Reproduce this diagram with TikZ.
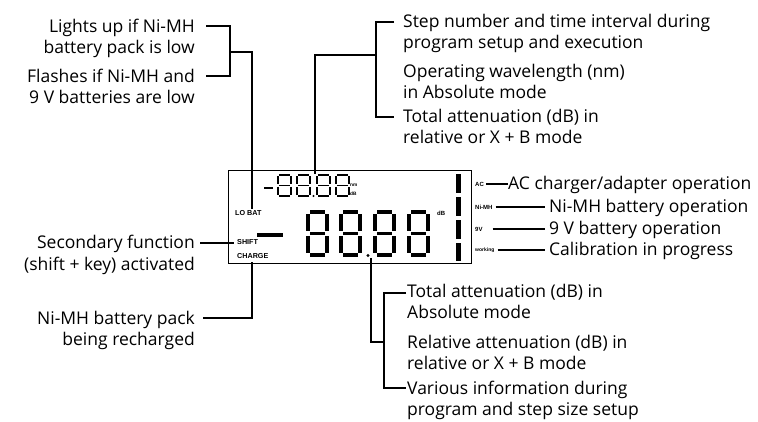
\documentclass[tikz,border=0pt]{standalone}
\usepackage{fontspec}
\setmainfont{Open Sans}
\newfontfamily\lcdfont{Liberation Sans}
\newcommand\segdigit[5]{% x, y top, width, height, thickness (outer box)
  \draw[line width=#5pt, line cap=butt]
    ({#1+#5*1.2}, {#2+#5/2}) -- ({#1+#3-#5*1.2}, {#2+#5/2})
    ({#1+#5*1.2}, {#2+#4/2}) -- ({#1+#3-#5*1.2}, {#2+#4/2})
    ({#1+#5*1.2}, {#2+#4-#5/2}) -- ({#1+#3-#5*1.2}, {#2+#4-#5/2})
    ({#1+#5/2}, {#2+#5*1.2}) -- ({#1+#5/2}, {#2+#4/2-#5*0.7})
    ({#1+#5/2}, {#2+#4/2+#5*0.7}) -- ({#1+#5/2}, {#2+#4-#5*1.2})
    ({#1+#3-#5/2}, {#2+#5*1.2}) -- ({#1+#3-#5/2}, {#2+#4/2-#5*0.7})
    ({#1+#3-#5/2}, {#2+#4/2+#5*0.7}) -- ({#1+#3-#5/2}, {#2+#4-#5*1.2});
}
\begin{document}
\begin{tikzpicture}[x=1pt, y=-1pt,
  desc/.style={font=\fontsize{17.5}{21}\selectfont, inner sep=0pt, align=left, anchor=base west},
  descr/.style={desc, align=right, anchor=base east},
  lcdlab/.style={font=\lcdfont\bfseries\fontsize{7.2}{8}\selectfont, inner sep=0pt, anchor=west},
  lcdsmall/.style={font=\lcdfont\bfseries\fontsize{6}{6}\selectfont, inner sep=0pt, anchor=west},
  conn/.style={line width=1.6pt},
  thinconn/.style={line width=1.1pt}]
\useasboundingbox (0,0) rectangle (758,422);

% LCD frame
\node[draw, line width=0.9pt, minimum width=243pt, minimum height=93pt, inner sep=0pt, anchor=north west] (lcd) at (228,170) {};

% small digits
\draw[line width=2pt] (264,188) -- (273,188);
\segdigit{277}{174}{15}{23}{1.9}
\segdigit{296}{174}{15}{23}{1.9}
\segdigit{316}{174}{15}{23}{1.9}
\segdigit{335}{174}{15}{23}{1.9}
\fill (313.5,196) circle (1.2pt);
\node[font=\lcdfont\bfseries\fontsize{4.8}{5}\selectfont, inner sep=0pt, anchor=west] (nm) at (350,185) {nm};
\node[font=\lcdfont\bfseries\fontsize{4.8}{5}\selectfont, inner sep=0pt, anchor=west] (dbs) at (350,194) {dB};

% big digits
\segdigit{306}{210}{23}{47}{3.6}
\segdigit{339}{210}{23}{47}{3.6}
\segdigit{373}{210}{23}{47}{3.6}
\segdigit{407}{210}{23}{47}{3.6}
\fill (368,255.5) circle (1.7pt);
\node[lcdsmall] (dbb) at (437,213) {dB};

% left LCD labels and bar
\node[lcdlab] (lobat) at (235,213) {LO BAT};
\node[lcdlab] (shift) at (237,242) {SHIFT};
\node[lcdlab] (charge) at (237,256) {CHARGE};
\fill (257,233) rectangle (283,237);

% right bars
\fill (456,174) rectangle (461,193);
\fill (456,197) rectangle (461,216);
\fill (456,220) rectangle (461,239);
\fill (456,243) rectangle (461,261);

% right LCD labels
\node[lcdsmall] (acl) at (475,184) {AC};
\node[lcdsmall] (nimhl) at (475,207) {Ni-MH};
\node[lcdsmall] (ninevl) at (475,229) {9V};
\node[lcdsmall, font=\lcdfont\bfseries\fontsize{5}{5}\selectfont] (workl) at (475,250) {working};

% right descriptions
\node[desc] (tac) at (508,190) {AC charger/adapter operation};
\node[desc] (tnimh) at (549,213) {Ni-MH battery operation};
\node[desc] (tnine) at (549,235) {9 V battery operation};
\node[desc] (twork) at (549,256) {Calibration in progress};
\draw[thinconn] (acl.east) ++(2,0) -- (tac.west |- acl.east);
\draw[thinconn] (nimhl.east) ++(3,0) coordinate (a1) -- ([xshift=-4pt]tnimh.west |- a1);
\draw[thinconn] (ninevl.east) ++(10,0) coordinate (a2) -- ([xshift=-4pt]tnine.west |- a2);
\draw[thinconn] (workl.east) ++(3,0) coordinate (a3) -- ([xshift=-4pt]twork.west |- a3);

% top descriptions (base = baseline of last line)
\node[desc] (tstep) at (403,49) {Step number and time interval during\\program setup and execution};
\node[desc] (twave) at (403,99) {Operating wavelength (nm)\\in Absolute mode};
\node[desc] (ttot) at (403,144) {Total attenuation (dB) in\\relative or X + B mode};
\coordinate (tb1) at (394,22);
\coordinate (tb2) at (394,117);
\coordinate (tj) at (376,55);
\coordinate (tdig) at (315,174);
\draw[conn] (tb1) -- (376,22) -- (376,117) -- (tb2);
\draw[conn] (tj) -| (tdig);

% top-left descriptions
\node[descr] (tlights) at (195,54) {Lights up if Ni-MH\\battery pack is low};
\node[descr] (tflash) at (195,104) {Flashes if Ni-MH and\\9 V batteries are low};
\coordinate (lb1) at (206,26);
\coordinate (lb2) at (206,76);
\draw[conn] (lb1) -- (230,26) -- (230,76) -- (lb2);
\draw[conn] (230,52) -| ([yshift=1pt]lobat.north -| 252,0);

% bottom-left descriptions
\node[descr] (tsec) at (195,270) {Secondary function\\(shift + key) activated};
\node[descr] (tchg) at (195,345) {Ni-MH battery pack\\being recharged};
\coordinate (sc1) at (200,243);
\draw[conn] (sc1) -- ([xshift=-3pt]shift.west |- sc1);
\coordinate (ch1) at (203,318);
\draw[conn] (ch1) -| (252,262);

% bottom descriptions
\node[desc] (tabs) at (407,319) {Total attenuation (dB) in\\Absolute mode};
\node[desc] (trel) at (407,369) {Relative attenuation (dB) in\\relative or X + B mode};
\node[desc] (tvar) at (407,415) {Various information during\\program and step size setup};
\coordinate (bb1) at (406,293);
\coordinate (bb2) at (406,388);
\coordinate (bj) at (384,342);
\coordinate (bdot) at (371,258);
\draw[conn] (bb1) -- (384,293) -- (384,388) -- (bb2);
\draw[conn] (bdot) |- (bj);
\end{tikzpicture}
\end{document}
